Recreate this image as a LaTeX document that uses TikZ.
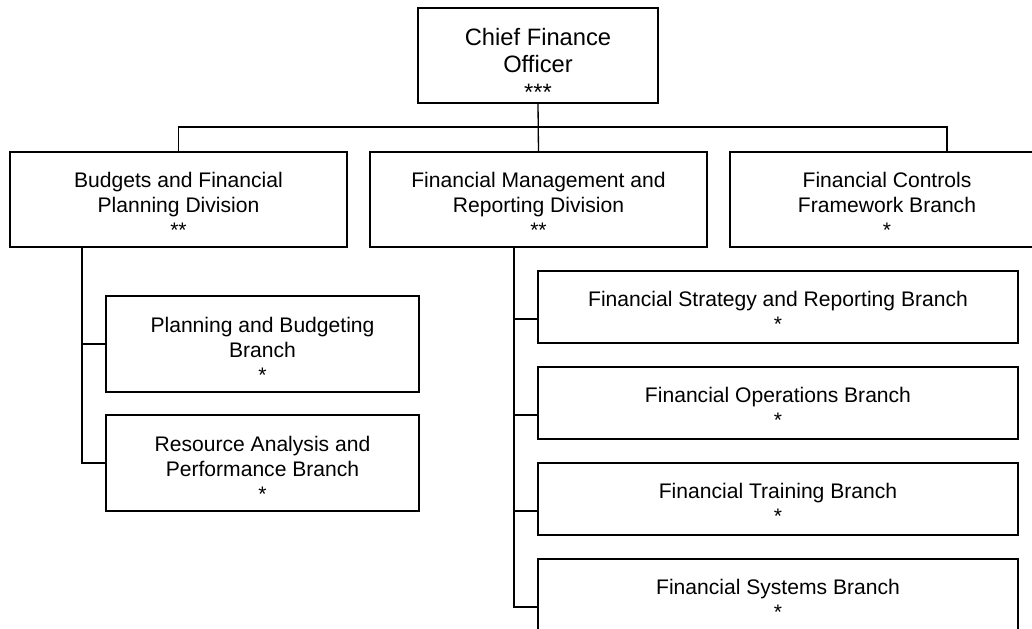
\documentclass[tikz,border=0pt]{standalone}
\usepackage{fontspec}
\setmainfont{Liberation Sans}

\begin{document}
\begin{tikzpicture}[x=0.02cm,y=-0.02cm,
    box/.style={draw,line width=0.75pt,align=center,inner sep=0pt,outer sep=0pt,
      font=\fontsize{12}{14.2}\selectfont},
    pad/.style={execute at begin node={\rule{0pt}{#1}}},
    link/.style={line width=0.75pt}]
      \useasboundingbox (0,0) rectangle (1032,629);
      \clip (0,0) rectangle (1032,629);

      % top
      \node[box,minimum width=4.8cm,minimum height=1.9cm,pad=51.7pt,
        font=\fontsize{13.5}{15.9}\selectfont] (cfo) at (538,55.5)
        {Chief Finance\\Officer\\***};

      % divisions
      \node[box,minimum width=6.74cm,minimum height=1.9cm,pad=42.8pt] (bfp) at (178.5,199.5)
        {Budgets and Financial\\Planning Division\\**};
      \node[box,minimum width=6.74cm,minimum height=1.9cm,pad=42.8pt] (fmr) at (538.5,199.5)
        {Financial Management and\\Reporting Division\\**};
      \node[box,minimum width=6.28cm,minimum height=1.9cm,pad=42.8pt] (fcf) at (887,199.5)
        {Financial Controls\\Framework Branch\\*};

      % branches under budgets
      \node[box,minimum width=6.26cm,minimum height=1.92cm,pad=43.4pt] (pbb) at (262.5,344)
        {Planning and Budgeting\\Branch\\*};
      \node[box,minimum width=6.26cm,minimum height=1.92cm,pad=43.4pt] (rap) at (262.5,463)
        {Resource Analysis and\\Performance Branch\\*};

      % branches under management
      \node[box,minimum width=9.6cm,minimum height=1.44cm,pad=27.6pt] (fsr) at (778,307)
        {Financial Strategy and Reporting Branch\\*};
      \node[box,minimum width=9.6cm,minimum height=1.44cm,pad=27.6pt] (fop) at (778,403)
        {Financial Operations Branch\\*};
      \node[box,minimum width=9.6cm,minimum height=1.44cm,pad=27.6pt] (ftb) at (778,499)
        {Financial Training Branch\\*};
      \node[box,minimum width=9.6cm,minimum height=1.44cm,pad=27.6pt] (fsb) at (778,595)
        {Financial Systems Branch\\*};

      % connectors
      \coordinate (busR) at (947,127);
      \coordinate (leftT) at (82,247);
      \coordinate (rightT) at (514,247);
      \draw[link] (cfo.south) -- (fmr.north);
      \draw[link] (bfp.north) |- (busR) -- (busR |- fcf.north);
      \draw[link] (leftT) |- (rap.west);
      \draw[link] (leftT |- pbb.west) -- (pbb.west);
      \foreach \b in {fsr,fop,ftb,fsb}
        \path ([yshift=-0.24cm]\b.west) coordinate (\b-in);
      \draw[link] (rightT) |- (fsb-in);
      \foreach \b in {fsr,fop,ftb}
        \draw[link] (rightT |- \b-in) -- (\b-in);
\end{tikzpicture}
\end{document}
